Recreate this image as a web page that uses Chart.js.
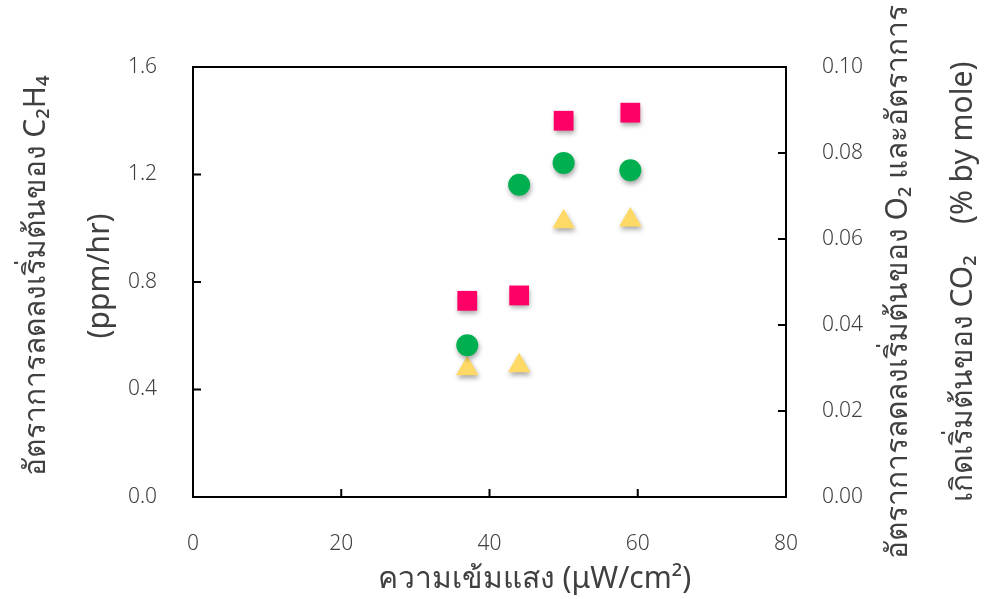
<!DOCTYPE html>
<html lang="th">
<head>
    <meta charset="UTF-8">
    <title>Initial rates vs light intensity</title>
    <script src="https://cdn.jsdelivr.net/npm/chart.js"></script>
    <style>
        html, body { margin: 0; padding: 0; background: #fff; }
        #wrap { width: 985px; height: 599px; }
    </style>
</head>
<body>
    <div id="wrap"><canvas id="rateChart"></canvas></div>
    <script>
        // light intensity (uW/cm2)
        const lightIntensity = [37, 44, 50, 59];
        // initial rates
        const ethyleneRate = [0.73, 0.75, 1.40, 1.43];      // ppm/hr, left axis
        const oxygenRate = [0.0353, 0.0726, 0.0777, 0.0760]; // % by mole, right axis
        const co2Rate = [0.0298, 0.0305, 0.0640, 0.0644];    // % by mole, right axis

        const xTicks = [0, 20, 40, 60, 80];
        const leftTicks = [0, 0.4, 0.8, 1.2, 1.6];
        const rightTicks = [0, 0.02, 0.04, 0.06, 0.08, 0.10];

        const textColor = '#404040';
        const tickFont = { family: 'Noto Sans, DejaVu Sans, sans-serif', size: 21, weight: '300' };
        const titleFamily = 'Noto Sans, DejaVu Sans, sans-serif';

        function points(ys) {
            return lightIntensity.map((x, i) => ({ x: x, y: ys[i] }));
        }

        // frame, inward tick marks, marker shadow and axis titles
        const framePlugin = {
            id: 'frame',
            beforeDatasetsDraw(chart) {
                const ctx = chart.ctx;
                ctx.save();
                ctx.shadowColor = 'rgba(0,0,0,0.35)';
                ctx.shadowBlur = 5;
                ctx.shadowOffsetX = 1;
                ctx.shadowOffsetY = 3;
            },
            afterDatasetsDraw(chart) {
                chart.ctx.restore();
            },
            afterDraw(chart) {
                const ctx = chart.ctx;
                const a = chart.chartArea;
                const sx = chart.scales.x, sl = chart.scales.y, sr = chart.scales.y2;
                ctx.save();
                ctx.strokeStyle = '#000';
                ctx.lineWidth = 2;
                ctx.strokeRect(a.left, a.top, a.right - a.left, a.bottom - a.top);
                ctx.beginPath();
                const len = 8;
                xTicks.forEach(v => {
                    const px = sx.getPixelForValue(v);
                    ctx.moveTo(px, a.bottom); ctx.lineTo(px, a.bottom - len);
                });
                leftTicks.forEach(v => {
                    const py = sl.getPixelForValue(v);
                    ctx.moveTo(a.left, py); ctx.lineTo(a.left + len, py);
                });
                rightTicks.forEach(v => {
                    const py = sr.getPixelForValue(v);
                    ctx.moveTo(a.right, py); ctx.lineTo(a.right - len, py);
                });
                ctx.stroke();

                ctx.fillStyle = textColor;
                ctx.textAlign = 'center';
                ctx.textBaseline = 'middle';
                const midY = (a.top + a.bottom) / 2;
                const titleFont = '30px ' + titleFamily;

                // left title
                ctx.save();
                ctx.translate(a.left - 157, midY - 6);
                ctx.rotate(-Math.PI / 2);
                ctx.font = titleFont;
                ctx.fillText('อัตราการลดลงเริ่มต้นของ C\u2082H\u2084', 0, 0);
                ctx.fillText('(ppm/hr)', 0, 64);
                ctx.restore();

                // right title
                ctx.save();
                ctx.translate(a.right + 112, midY);
                ctx.rotate(-Math.PI / 2);
                ctx.font = titleFont;
                ctx.fillText('อัตราการลดลงเริ่มต้นของ O\u2082 และอัตราการ', 0, 0);
                ctx.fillText('เกิดเริ่มต้นของ CO\u2082    (% by mole)', 0, 65);
                ctx.restore();

                // x title
                ctx.font = titleFont;
                ctx.fillText('ความเข้มแสง (\u03BCW/cm\u00B2)', (a.left + a.right) / 2 + 45, a.bottom + 82);
                ctx.restore();
            }
        };

        new Chart(document.getElementById('rateChart'), {
            type: 'scatter',
            data: {
                datasets: [
                    {
                        label: 'C2H4',
                        data: points(ethyleneRate),
                        yAxisID: 'y',
                        pointStyle: 'rect',
                        pointRadius: 14,
                        backgroundColor: '#FF0066',
                        borderColor: '#FF0066',
                        borderWidth: 0
                    },
                    {
                        label: 'O2',
                        data: points(oxygenRate),
                        yAxisID: 'y2',
                        pointStyle: 'circle',
                        pointRadius: 11,
                        backgroundColor: '#00B050',
                        borderColor: '#00B050',
                        borderWidth: 0
                    },
                    {
                        label: 'CO2',
                        data: points(co2Rate),
                        yAxisID: 'y2',
                        pointStyle: 'triangle',
                        pointRadius: 13,
                        backgroundColor: '#FFD966',
                        borderColor: '#FFD966',
                        borderWidth: 0
                    }
                ]
            },
            options: {
                responsive: true,
                maintainAspectRatio: false,
                animation: false,
                layout: { padding: { top: 67, left: 0, right: 0, bottom: 0 } },
                plugins: {
                    legend: { display: false },
                    tooltip: { enabled: false }
                },
                scales: {
                    x: {
                        type: 'linear',
                        min: 0, max: 80,
                        afterBuildTicks: s => { s.ticks = xTicks.map(v => ({ value: v })); },
                        afterFit: s => { s.height = 102; },
                        grid: { display: false, drawTicks: false },
                        border: { display: false },
                        ticks: { color: textColor, font: tickFont, padding: 34, maxRotation: 0 }
                    },
                    y: {
                        position: 'left',
                        min: 0, max: 1.6,
                        afterBuildTicks: s => { s.ticks = leftTicks.map(v => ({ value: v })); },
                        afterFit: s => { s.width = 193; },
                        grid: { display: false, drawTicks: false },
                        border: { display: false },
                        ticks: { color: textColor, font: tickFont, padding: 36, callback: v => v.toFixed(1) }
                    },
                    y2: {
                        position: 'right',
                        min: 0, max: 0.1,
                        afterBuildTicks: s => { s.ticks = rightTicks.map(v => ({ value: v })); },
                        afterFit: s => { s.width = 199; },
                        grid: { display: false, drawTicks: false },
                        border: { display: false },
                        ticks: { color: textColor, font: tickFont, padding: 36, callback: v => v.toFixed(2) }
                    }
                }
            },
            plugins: [framePlugin]
        });
    </script>
</body>
</html>
